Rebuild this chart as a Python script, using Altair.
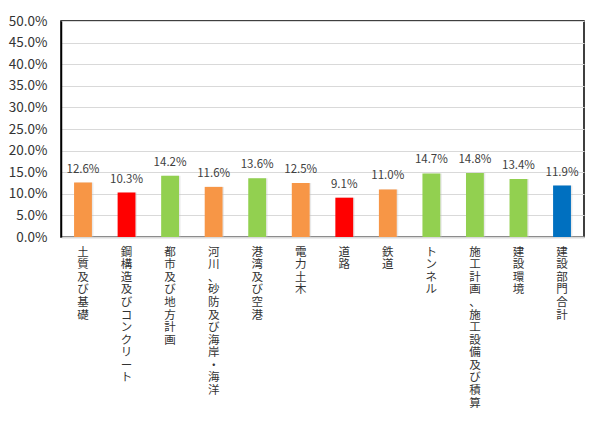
import altair as alt
import pandas as pd

categories = [
    "土質及び基礎", "鋼構造及びコンクリート", "都市及び地方計画",
    "河川、砂防及び海岸・海洋", "港湾及び空港", "電力土木", "道路", "鉄道",
    "トンネル", "施工計画、施工設備及び積算", "建設環境", "建設部門合計",
]
values = [12.6, 10.3, 14.2, 11.6, 13.6, 12.5, 9.1, 11.0, 14.7, 14.8, 13.4, 11.9]
colors = ["#F79646", "#FF0000", "#92D050", "#F79646", "#92D050", "#F79646",
          "#FF0000", "#F79646", "#92D050", "#92D050", "#92D050", "#0070C0"]
y_ticks = [0, 5, 10, 15, 20, 25, 30, 35, 40, 45, 50]

df = pd.DataFrame({
    "cat": categories,
    "val": [v / 100 for v in values],
    "col": colors,
    "lbl": [f"{v:.1f}%" for v in values],
})

FONT = "Noto Sans CJK JP"

x = alt.X("cat:N", sort=categories, title=None,
          scale=alt.Scale(paddingInner=0.59, paddingOuter=0.3),
          axis=alt.Axis(labelAngle=0, labelExpr="split(datum.label, '')",
                        labelBaseline="top", labelAlign="center",
                        labelLineHeight=12.6, labelFontSize=11.5,
                        labelFont=FONT, labelColor="#333333",
                        labelPadding=9, ticks=False, labelOverlap=False,
                        domainColor="#d9d9d9", domainWidth=2))
y = alt.Y("val:Q", title=None,
          scale=alt.Scale(domain=[0, 0.5]),
          axis=alt.Axis(format=".1%", values=[t / 100 for t in y_ticks],
                        labelFont=FONT, labelFontSize=13.5, labelColor="#333333",
                        labelPadding=14, ticks=False, grid=True, labelOverlap=False,
                        gridColor="#d9d9d9", gridWidth=1,
                        domainColor="#000000", domainWidth=1.5))

base = alt.Chart(df)

shadow = base.mark_bar(color="#bfbfbf", opacity=0.35, xOffset=1.5).encode(x=x, y=y)
bars = base.mark_bar().encode(x=x, y=y, color=alt.Color("col:N", scale=None))
labels = base.mark_text(baseline="bottom", dy=-8, font=FONT, fontSize=11.5,
                        color="#404040").encode(x=x, y=y, text="lbl:N")

chart = (shadow + bars + labels).properties(
    width=523, height=216,
    padding={"left": 0, "top": 6, "right": 5, "bottom": 5},
).configure_view(stroke="#000000", strokeWidth=1.5)

chart.save("out.html", embed_options={"renderer": "svg", "actions": False})
